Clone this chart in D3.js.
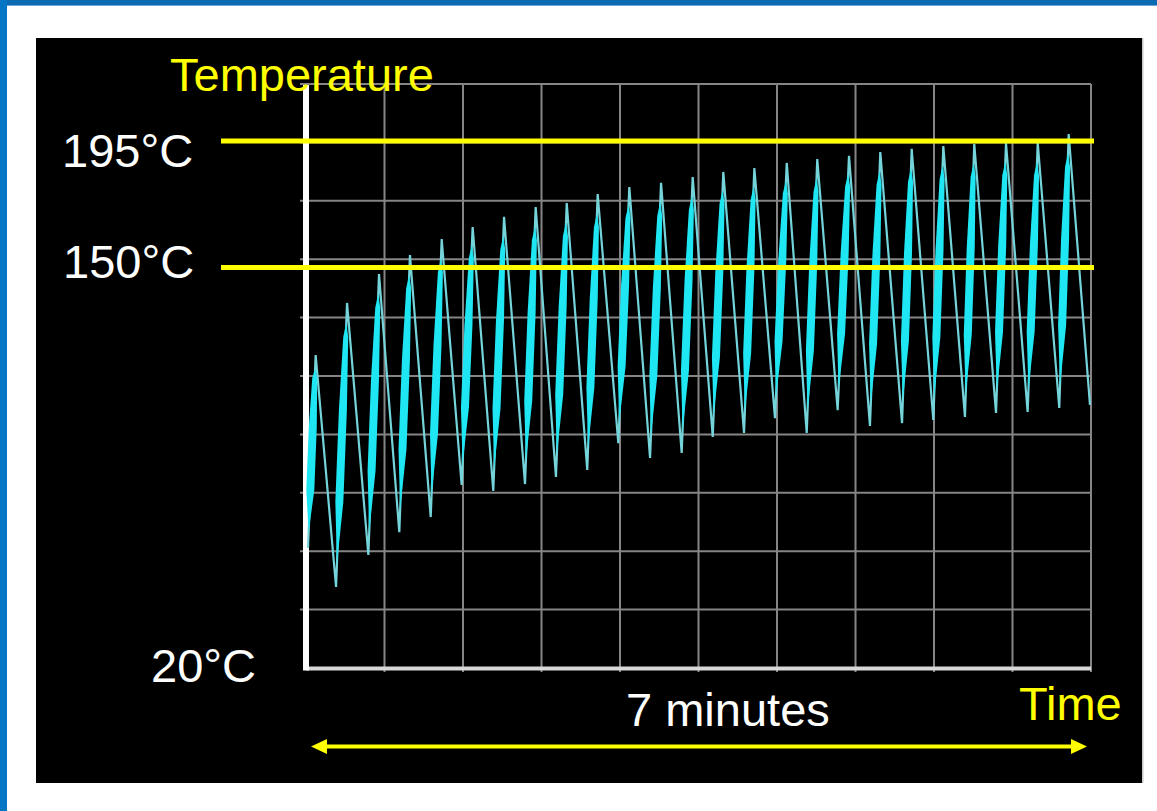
<!DOCTYPE html>
<html>
<head>
<meta charset="utf-8">
<script src="https://cdn.jsdelivr.net/npm/d3@7"></script>
<style>
  html, body { margin: 0; padding: 0; background: #ffffff; overflow: hidden; }
  svg { display: block; font-family: "Liberation Sans", Arial, sans-serif; }
</style>
</head>
<body>
<svg id="chart" width="1157" height="811"></svg>
<script>
// ---------- DATA ----------
// Oscillating oven temperature: alternating troughs and peaks (time in minutes, temperature in °C)
const troughMin = [0.018, 0.268, 0.556, 0.832, 1.112, 1.388, 1.670, 1.953, 2.229, 2.508, 2.785, 3.068, 3.350,
                   3.627, 3.906, 4.182, 4.465, 4.741, 5.029, 5.315, 5.594, 5.876, 6.153, 6.435, 6.717, 6.991];
const troughC   = [59.0, 46.3, 56.7, 64.1, 69.0, 79.4, 77.5, 79.7, 82.0, 84.3, 93.0, 88.2, 89.8,
                   95.0, 96.3, 101.1, 96.3, 103.7, 98.6, 99.5, 100.5, 101.5, 102.8, 103.1, 104.4, 105.4];
const peakMin   = [0.086, 0.366, 0.651, 0.927, 1.210, 1.486, 1.766, 2.048, 2.325, 2.601, 2.883, 3.166, 3.448,
                   3.721, 3.998, 4.287, 4.559, 4.842, 5.121, 5.401, 5.683, 5.959, 6.242, 6.525, 6.801];
const peakC     = [121.6, 138.5, 147.9, 154.4, 160.1, 164.4, 168.0, 171.5, 172.9, 176.1, 178.6, 180.1, 182.2,
                   184.0, 185.4, 187.2, 188.6, 189.7, 191.1, 192.2, 193.2, 193.9, 194.3, 194.3, 197.5];

const thresholdC      = [195, 150];                   // yellow reference lines
const yLabelTexts     = ["195°C", "150°C", "20°C"];
const yLabelTemps     = [195, 150, 20];
const yAxisTitle      = "Temperature";
const xAxisTitle      = "Time";
const durationLabel   = "7 minutes";
const durationMin     = [0, 7];
const gridDivisions   = 10;

// ---------- LAYOUT ----------
const W = 1157, H = 811;
const svg = d3.select("#chart");

// frame
svg.append("rect").attr("x", 0).attr("y", 0).attr("width", W).attr("height", H).attr("fill", "#ffffff");
svg.append("rect").attr("x", 0).attr("y", 0).attr("width", W).attr("height", 5).attr("fill", "#0a6ab2");
svg.append("rect").attr("x", 0).attr("y", 5).attr("width", W).attr("height", 1).attr("fill", "#6fa6d6");
svg.append("rect").attr("x", 0).attr("y", 0).attr("width", 7).attr("height", H).attr("fill", "#0575c6");
svg.append("rect").attr("x", 36).attr("y", 38).attr("width", 1106).attr("height", 745).attr("fill", "#000000");
svg.append("rect").attr("x", 1142).attr("y", 38).attr("width", 1.5).attr("height", 745).attr("fill", "#c8c8c8");

const plot = { left: 306, right: 1091, top: 84, bottom: 668 };

// scales
const x = d3.scaleLinear().domain(durationMin).range([plot.left, plot.right]);
const y = d3.scaleLinear().domain([20, 150, 195]).range([plot.bottom, 267.5, 141]);
const gx = d3.scaleLinear().domain([0, gridDivisions]).range([plot.left, plot.right]);
const gy = d3.scaleLinear().domain([0, gridDivisions]).range([plot.bottom, plot.top]);

// grid
const grid = svg.append("g").attr("stroke", "#858585").attr("stroke-width", 2);
grid.selectAll("line.h").data(d3.range(1, gridDivisions + 1)).join("line")
  .attr("class", "h")
  .attr("x1", plot.left - 6).attr("x2", plot.right)
  .attr("y1", d => gy(d)).attr("y2", d => gy(d));
grid.selectAll("line.v").data(d3.range(1, gridDivisions + 1)).join("line")
  .attr("class", "v")
  .attr("x1", d => gx(d)).attr("x2", d => gx(d))
  .attr("y1", plot.top).attr("y2", plot.bottom + 4);

// axes (white frame lines)
svg.append("line").attr("x1", plot.left).attr("x2", plot.right)
  .attr("y1", plot.bottom + 0.5).attr("y2", plot.bottom + 0.5)
  .attr("stroke", "#d8d8d8").attr("stroke-width", 4);
svg.append("line").attr("x1", plot.left).attr("x2", plot.left)
  .attr("y1", plot.top + 1).attr("y2", plot.bottom + 2.5)
  .attr("stroke", "#ffffff").attr("stroke-width", 6);

// temperature trace points (alternating trough / peak)
const pts = [];
peakMin.forEach((pm, i) => {
  pts.push({ t: troughMin[i], c: troughC[i] });
  pts.push({ t: pm, c: peakC[i] });
});
pts.push({ t: troughMin[troughMin.length - 1], c: troughC[troughC.length - 1] });

const trace = svg.append("g");
trace.append("path")
  .datum(pts)
  .attr("fill", "none")
  .attr("stroke", "#74d4da")
  .attr("stroke-width", 2.2)
  .attr("stroke-linejoin", "miter")
  .attr("d", d3.line().x(d => x(d.t)).y(d => y(d.c)));

// heating phases drawn as the dense bright band
const rises = peakMin.map((pm, i) => ({ t0: troughMin[i], c0: troughC[i], t1: pm, c1: peakC[i] }));
const lerp = (a, b, f) => a + (b - a) * f;
trace.selectAll("path.rise").data(rises).join("path")
  .attr("class", "rise")
  .attr("fill", "#1ee6f2")
  .attr("d", r => {
    const X0 = x(r.t0), Y0 = y(r.c0), X1 = x(r.t1), Y1 = y(r.c1);
    const p = f => [lerp(X0, X1, f), lerp(Y0, Y1, f)];
    const a = p(0.08), m1 = p(0.3), m2 = p(0.62), b = p(0.88), c = p(0.93);
    return `M${a[0]},${a[1]} L${m1[0] - 4},${m1[1]} L${m2[0] - 4},${m2[1]} L${b[0] - 2.5},${b[1]}` +
           ` L${c[0]},${c[1]} L${b[0] + 2.5},${b[1]} L${m2[0] + 4},${m2[1]} L${m1[0] + 4},${m1[1]} Z`;
  });

// yellow threshold lines
svg.selectAll("line.thr").data(thresholdC).join("line")
  .attr("class", "thr")
  .attr("x1", plot.left - 85).attr("x2", plot.right + 3)
  .attr("y1", d => y(d)).attr("y2", d => y(d))
  .attr("stroke", "#ffff00").attr("stroke-width", 5);

// y labels
const labelX = [62, 63, 151];
const labelDy = [26, 10.5, 14];
svg.selectAll("text.yl").data(yLabelTexts).join("text")
  .attr("class", "yl")
  .attr("x", (d, i) => labelX[i])
  .attr("y", (d, i) => y(yLabelTemps[i]) + labelDy[i])
  .attr("fill", "#ffffff")
  .attr("font-size", 47)
  .text(d => d);

// axis titles
svg.append("text").attr("x", 170).attr("y", 91)
  .attr("fill", "#ffff00").attr("font-size", 47).text(yAxisTitle);
svg.append("text").attr("x", 1019).attr("y", 720)
  .attr("fill", "#ffff00").attr("font-size", 47).text(xAxisTitle);

// duration label and double arrow
svg.append("text").attr("x", 626).attr("y", 726)
  .attr("fill", "#ffffff").attr("font-size", 47).text(durationLabel);

const ay = 746.5;
const ax0 = x(durationMin[0]) + 5, ax1 = x(durationMin[1]) - 4;
svg.append("line").attr("x1", ax0 + 10).attr("x2", ax1 - 10)
  .attr("y1", ay).attr("y2", ay)
  .attr("stroke", "#ffff00").attr("stroke-width", 4);
svg.append("path")
  .attr("fill", "#ffff00")
  .attr("d", `M${ax0},${ay} L${ax0 + 16},${ay - 7.5} L${ax0 + 16},${ay + 7.5} Z` +
             ` M${ax1},${ay} L${ax1 - 16},${ay - 7.5} L${ax1 - 16},${ay + 7.5} Z`);
</script>
</body>
</html>
